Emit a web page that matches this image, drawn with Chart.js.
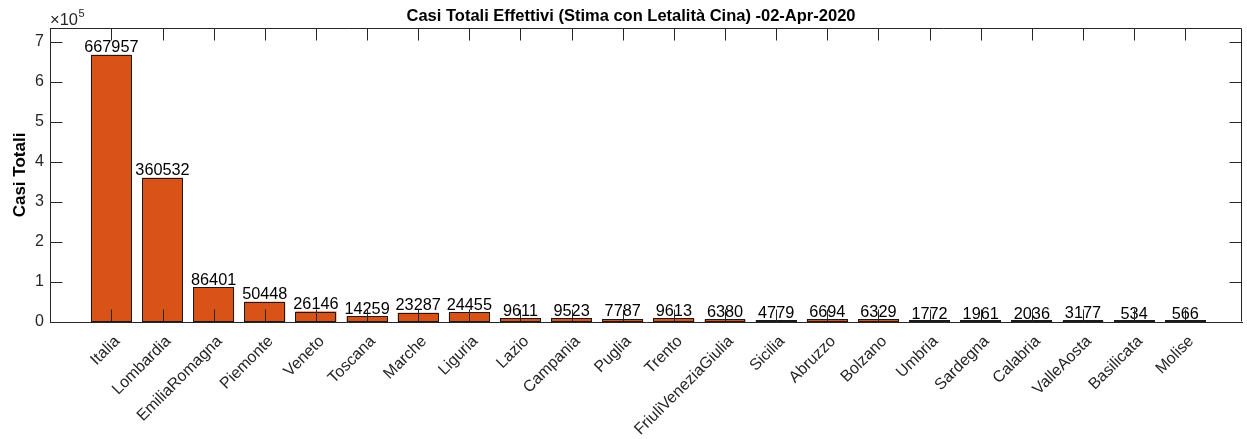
<!DOCTYPE html>
<html>
<head>
<meta charset="utf-8">
<script src="https://cdn.jsdelivr.net/npm/chart.js@4/dist/chart.umd.min.js"></script>
<style>
  html, body { margin: 0; padding: 0; background: #fff; }
  #wrap { width: 1247px; height: 439px; }
</style>
</head>
<body>
<div id="wrap"><canvas id="c" width="1247" height="439"></canvas></div>
<script>
const categories = ['Italia','Lombardia','EmiliaRomagna','Piemonte','Veneto','Toscana','Marche','Liguria','Lazio','Campania','Puglia','Trento','FriuliVeneziaGiulia','Sicilia','Abruzzo','Bolzano','Umbria','Sardegna','Calabria','ValleAosta','Basilicata','Molise'];
const values = [667957,360532,86401,50448,26146,14259,23287,24455,9611,9523,7787,9613,6380,4779,6694,6329,1772,1961,2036,3177,534,566];
const yTicks = [0,1,2,3,4,5,6,7];
const yExponent = 5;
const titleText = 'Casi Totali Effettivi (Stima con Letalità Cina) -02-Apr-2020';
const yTitle = 'Casi Totali';

const FONT = "'Liberation Sans', Arial, Helvetica, sans-serif";
const AXIS = '#262626';

const overlay = {
  id: 'overlay',
  afterDatasetsDraw(chart) {
    const ctx = chart.ctx;
    const xs = chart.scales.x, ys = chart.scales.y;
    const a = chart.chartArea;
    const meta = chart.getDatasetMeta(0);
    ctx.save();
    // bar outlines (centered on bar edges)
    ctx.strokeStyle = '#1a1a1a';
    ctx.lineWidth = 1;
    meta.data.forEach(el => {
      const x0 = Math.round(el.x - el.width / 2) + 0.5;
      const x1 = Math.round(el.x + el.width / 2) - 0.5;
      const y0 = Math.round(el.y) + 0.5;
      const y1 = Math.round(el.base) - 0.5;
      ctx.strokeRect(x0, Math.min(y0, y1 - 1), x1 - x0, Math.max(1, y1 - y0));
    });
    // value labels
    ctx.fillStyle = '#000';
    ctx.font = '16.3px ' + FONT;
    ctx.textAlign = 'center';
    ctx.textBaseline = 'alphabetic';
    meta.data.forEach((el, i) => {
      ctx.fillText(String(values[i]), el.x, el.y - 2.5);
    });
    // frame
    ctx.strokeStyle = AXIS;
    ctx.lineWidth = 1;
    const L = Math.round(a.left) + 0.5, R = Math.round(a.right) - 0.5;
    const T = Math.round(a.top) + 0.5, B = Math.round(a.bottom) - 0.5;
    ctx.beginPath();
    ctx.moveTo(L, T); ctx.lineTo(R, T); ctx.lineTo(R, B);
    ctx.stroke();
    // inward ticks
    const tl = 12;
    ctx.beginPath();
    categories.forEach((c, i) => {
      const px = Math.round(xs.getPixelForValue(i + 1)) + 0.5;
      ctx.moveTo(px, B); ctx.lineTo(px, B - tl);
      ctx.moveTo(px, T); ctx.lineTo(px, T + tl);
    });
    yTicks.forEach(v => {
      const py = Math.round(ys.getPixelForValue(v * Math.pow(10, yExponent))) + 0.5;
      ctx.moveTo(L, py); ctx.lineTo(L + tl, py);
      ctx.moveTo(R, py); ctx.lineTo(R - tl, py);
    });
    ctx.stroke();
    // exponent label
    ctx.fillStyle = AXIS;
    ctx.textAlign = 'left';
    ctx.font = '16.5px ' + FONT;
    const base = '\u00d710';
    ctx.fillText(base, a.left, 25);
    const w = ctx.measureText(base).width;
    ctx.font = '11px ' + FONT;
    ctx.fillText(String(yExponent), a.left + w + 0.5, 17);
    // title
    ctx.fillStyle = '#000';
    ctx.textAlign = 'center';
    ctx.font = 'bold 16.5px ' + FONT;
    ctx.fillText(titleText, 631, 21);
    // y title
    ctx.font = 'bold 17px ' + FONT;
    ctx.translate(24.5, (a.top + a.bottom) / 2);
    ctx.rotate(-Math.PI / 2);
    ctx.textAlign = 'center';
    ctx.fillText(yTitle, 0, 0);
    ctx.restore();
  }
};

new Chart(document.getElementById('c'), {
  type: 'bar',
  data: {
    datasets: [{
      data: categories.map((c, i) => ({ x: i + 1, y: values[i] })),
      backgroundColor: '#D95319',
      borderWidth: 0,
      barPercentage: 0.8,
      categoryPercentage: 1
    }]
  },
  options: {
    responsive: false,
    devicePixelRatio: 1,
    animation: false,
    layout: { padding: { top: 28, right: 5, left: 0, bottom: 0 } },
    plugins: { legend: { display: false }, title: { display: false }, tooltip: { enabled: false } },
    scales: {
      x: {
        type: 'linear',
        offset: false,
        min: -0.2,
        max: 23.11,
        afterBuildTicks: s => { s.ticks = categories.map((c, i) => ({ value: i + 1 })); },
        afterFit: s => { s.height = 117; },
        grid: { display: false, drawTicks: false, offset: false },
        border: { display: true, color: AXIS, width: 1 },
        ticks: {
          autoSkip: false,
          minRotation: 45,
          maxRotation: 45,
          padding: 10,
          labelOffset: 6,
          color: AXIS,
          font: { family: FONT, size: 16 },
          callback: v => categories[v - 1] || ''
        }
      },
      y: {
        min: 0,
        max: 735000,
        afterBuildTicks: s => { s.ticks = yTicks.map(v => ({ value: v * Math.pow(10, yExponent) })); },
        afterFit: s => { s.width = 50; },
        grid: { display: false, drawTicks: false },
        border: { display: true, color: AXIS, width: 1 },
        ticks: {
          padding: 6,
          color: AXIS,
          font: { family: FONT, size: 16 },
          callback: v => String(v / Math.pow(10, yExponent))
        }
      }
    }
  },
  plugins: [overlay]
});
</script>
</body>
</html>
